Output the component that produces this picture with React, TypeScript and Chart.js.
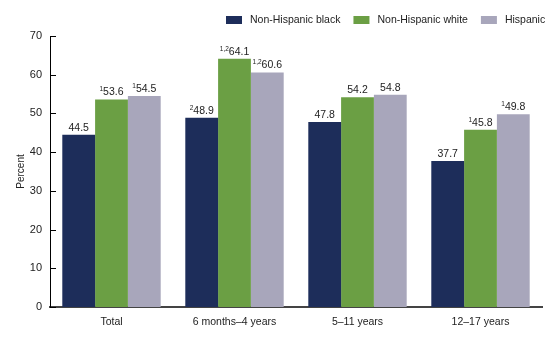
import { useEffect, useRef } from "react";
import { Chart, registerables } from "chart.js";

Chart.register(...registerables);

const categories = ["Total", "6 months–4 years", "5–11 years", "12–17 years"];
const seriesNames = ["Non-Hispanic black", "Non-Hispanic white", "Hispanic"];
const blackValues = [44.5, 48.9, 47.8, 37.7];
const whiteValues = [53.6, 64.1, 54.2, 45.8];
const hispanicValues = [54.5, 60.6, 54.8, 49.8];
const blackNotes = ["", "2", "", ""];
const whiteNotes = ["1", "1,2", "", "1"];
const hispanicNotes = ["1", "1,2", "", "1"];
const yTicks = [0, 10, 20, 30, 40, 50, 60, 70];
const colors = ["#1d2d5a", "#6b9f44", "#a8a6bb"];
const yTitle = "Percent";

const FONT = "Arial, 'Liberation Sans', sans-serif";

const annotate = {
  id: "annotate",
  afterDraw(chart: any) {
    const ctx = chart.ctx;
    const area = chart.chartArea;
    const ys = chart.scales.y;
    ctx.save();
    // inside tick marks
    ctx.strokeStyle = "#000";
    ctx.lineWidth = 1;
    yTicks.forEach((v) => {
      const y = Math.round(ys.getPixelForValue(v)) + 0.5;
      ctx.beginPath();
      ctx.moveTo(area.left, y);
      ctx.lineTo(area.left + 6, y);
      ctx.stroke();
    });
    // data labels
    const notes = [blackNotes, whiteNotes, hispanicNotes];
    chart.data.datasets.forEach((ds: any, i: number) => {
      const meta = chart.getDatasetMeta(i);
      meta.data.forEach((bar: any, j: number) => {
        const main = Number(ds.data[j]).toFixed(1);
        const note = notes[i][j];
        ctx.font = `10.5px ${FONT}`;
        const wm = ctx.measureText(main).width;
        ctx.font = `6.5px ${FONT}`;
        const wn = note ? ctx.measureText(note).width : 0;
        const total = wm + wn;
        const start = bar.x - total / 2;
        const base = bar.y - 4;
        ctx.fillStyle = "#222";
        ctx.textAlign = "left";
        ctx.textBaseline = "alphabetic";
        if (note) {
          ctx.font = `6.5px ${FONT}`;
          ctx.fillText(note, start, base - 4);
        }
        ctx.font = `10.5px ${FONT}`;
        ctx.fillText(main, start + wn, base);
      });
    });
    // legend
    let x = 226;
    const by = 16;
    seriesNames.forEach((name, i) => {
      ctx.fillStyle = colors[i];
      ctx.fillRect(x, by, 16, 8);
      ctx.font = `10.5px ${FONT}`;
      ctx.fillStyle = "#222";
      ctx.textBaseline = "middle";
      ctx.textAlign = "left";
      ctx.fillText(name, x + 24, by + 4);
      x += 24 + ctx.measureText(name).width + 13;
    });
    // y title
    ctx.save();
    ctx.translate(21, (area.top + area.bottom) / 2);
    ctx.rotate(-Math.PI / 2);
    ctx.textAlign = "center";
    ctx.textBaseline = "middle";
    ctx.font = `10px ${FONT}`;
    ctx.fillStyle = "#222";
    ctx.fillText(yTitle, 0, 0);
    ctx.restore();
    ctx.restore();
  },
};

export default function App() {
  const ref = useRef<HTMLCanvasElement>(null);
  useEffect(() => {
    document.body.style.margin = "0";
    const chart = new Chart(ref.current!, {
      type: "bar",
      data: {
        labels: categories,
        datasets: [
          { label: seriesNames[0], data: blackValues, backgroundColor: colors[0] },
          { label: seriesNames[1], data: whiteValues, backgroundColor: colors[1] },
          { label: seriesNames[2], data: hispanicValues, backgroundColor: colors[2] },
        ],
      },
      options: {
        animation: false,
        responsive: false,
        maintainAspectRatio: false,
        datasets: { bar: { categoryPercentage: 0.8, barPercentage: 1.0 } },
        layout: { padding: { left: 0, right: 18, top: 36, bottom: 0 } },
        plugins: { legend: { display: false }, tooltip: { enabled: false } },
        scales: {
          x: {
            grid: { display: false, drawTicks: false },
            border: { display: true, color: "#444", width: 2 },
            ticks: { font: { size: 10.5, family: FONT }, color: "#222", padding: 9 },
            afterFit: (s: any) => {
              s.height = 34;
            },
          },
          y: {
            min: 0,
            max: 70,
            grid: { display: false, drawTicks: false },
            border: { display: true, color: "#000", width: 1 },
            ticks: { stepSize: 10, font: { size: 11, family: FONT }, color: "#222", padding: 8 },
            afterFit: (s: any) => {
              s.width = 50;
            },
          },
        },
      },
      plugins: [annotate],
    });
    return () => chart.destroy();
  }, []);
  return (
    <div style={{ position: "absolute", left: 0, top: 0, width: 560, height: 341 }}>
      <canvas ref={ref} width={560} height={341} />
    </div>
  );
}
